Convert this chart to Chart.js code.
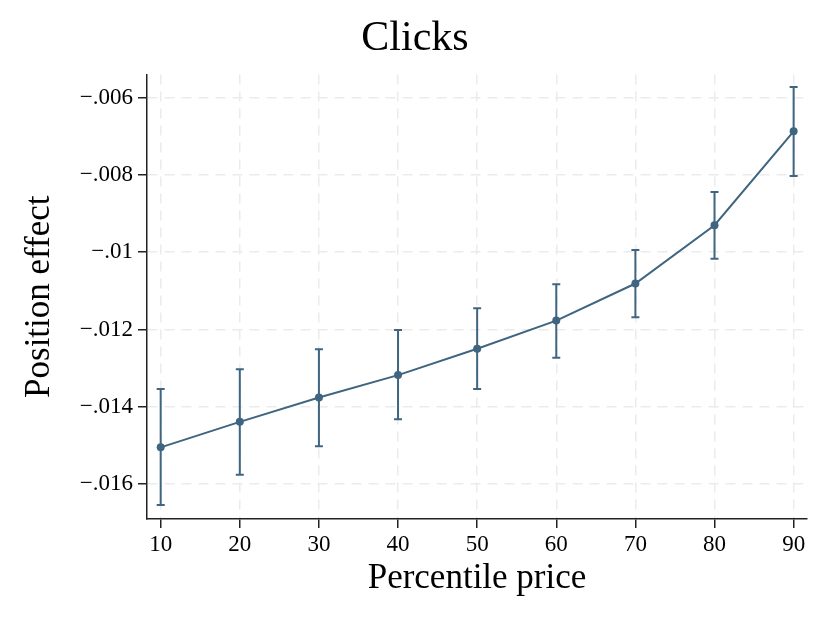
<!DOCTYPE html>
<html>
<head>
<meta charset="utf-8">
<script src="https://cdn.jsdelivr.net/npm/chart.js@4"></script>
<style>
  body { margin: 0; background: #fff; }
  canvas { display: block; }
</style>
</head>
<body>
<canvas id="chart" width="830" height="626"></canvas>
<script>
// values
const percentiles = [10, 20, 30, 40, 50, 60, 70, 80, 90];
const effect = [-0.01505, -0.01439, -0.01376, -0.01318, -0.01250, -0.01177, -0.01081, -0.00930, -0.00687];
const ciLow  = [-0.01654, -0.01576, -0.01502, -0.01432, -0.01354, -0.01273, -0.01168, -0.01017, -0.00803];
const ciHigh = [-0.01354, -0.01303, -0.01251, -0.01201, -0.01145, -0.01083, -0.00994, -0.00844, -0.00572];

const xTicks = [10, 20, 30, 40, 50, 60, 70, 80, 90];
const yTicks = [-0.016, -0.014, -0.012, -0.01, -0.008, -0.006];
const yTickLabels = ['\u2212.016', '\u2212.014', '\u2212.012', '\u2212.01', '\u2212.008', '\u2212.006'];

const lineColor = '#3f6580';
const serif = 'Liberation Serif';

// draws the confidence interval whiskers under the markers
const errorBars = {
    id: 'errorBars',
    beforeDatasetsDraw(chart) {
        const ctx = chart.ctx;
        const x = chart.scales.x;
        const y = chart.scales.y;
        ctx.save();
        ctx.strokeStyle = lineColor;
        ctx.lineWidth = 2;
        percentiles.forEach((p, i) => {
            const px = x.getPixelForValue(p);
            const top = y.getPixelForValue(ciHigh[i]);
            const bot = y.getPixelForValue(ciLow[i]);
            ctx.beginPath();
            ctx.moveTo(px, top);
            ctx.lineTo(px, bot);
            ctx.moveTo(px - 4, top);
            ctx.lineTo(px + 4, top);
            ctx.moveTo(px - 4, bot);
            ctx.lineTo(px + 4, bot);
            ctx.stroke();
        });
        ctx.restore();
    }
};

const gridStyle = {
    color: '#ebebeb',
    lineWidth: 1.5,
    tickColor: '#222',
    tickWidth: 1.5,
    tickLength: 9
};

new Chart(document.getElementById('chart'), {
    type: 'line',
    data: {
        datasets: [{
            data: percentiles.map((p, i) => ({ x: p, y: effect[i] })),
            borderColor: lineColor,
            backgroundColor: lineColor,
            borderWidth: 2,
            pointRadius: 4,
            pointBorderWidth: 0,
            tension: 0
        }]
    },
    options: {
        responsive: false,
        animation: false,
        devicePixelRatio: 1,
        layout: { padding: 0 },
        plugins: {
            legend: { display: false },
            tooltip: { enabled: false },
            title: {
                display: true,
                text: 'Clicks',
                color: '#000',
                font: { family: serif, size: 42, weight: 'normal' },
                padding: { top: 14, bottom: 10 }
            }
        },
        scales: {
            x: {
                type: 'linear',
                min: 8.27,
                max: 91.69,
                afterBuildTicks: (scale) => { scale.ticks = xTicks.map(v => ({ value: v })); },
                afterFit: (scale) => { scale.height = 107; },
                ticks: {
                    color: '#000',
                    padding: 3,
                    font: { family: serif, size: 23 },
                    callback: (v) => String(v)
                },
                grid: gridStyle,
                border: { display: true, color: '#222', width: 1.5, dash: [10, 7] },
                title: {
                    display: true,
                    text: 'Percentile price',
                    color: '#000',
                    font: { family: serif, size: 35 },
                    padding: { bottom: 26 }
                }
            },
            y: {
                min: -0.016905,
                max: -0.005397,
                afterBuildTicks: (scale) => { scale.ticks = yTicks.map(v => ({ value: v })); },
                afterFit: (scale) => { scale.width = 147; },
                ticks: {
                    color: '#000',
                    padding: 5,
                    font: { family: serif, size: 23 },
                    callback: (v) => yTickLabels[yTicks.indexOf(v)]
                },
                grid: gridStyle,
                border: { display: true, color: '#222', width: 1.5, dash: [10, 7] },
                title: {
                    display: true,
                    text: 'Position effect',
                    color: '#000',
                    font: { family: serif, size: 35 },
                    padding: { top: 19 }
                }
            },
            // empty right margin so the title centres on the whole page
            spacer: {
                type: 'linear',
                position: 'right',
                display: true,
                afterFit: (scale) => { scale.width = 23; },
                ticks: { display: false },
                grid: { display: false, drawTicks: false },
                border: { display: false }
            }
        }
    },
    plugins: [errorBars]
});
</script>
</body>
</html>
